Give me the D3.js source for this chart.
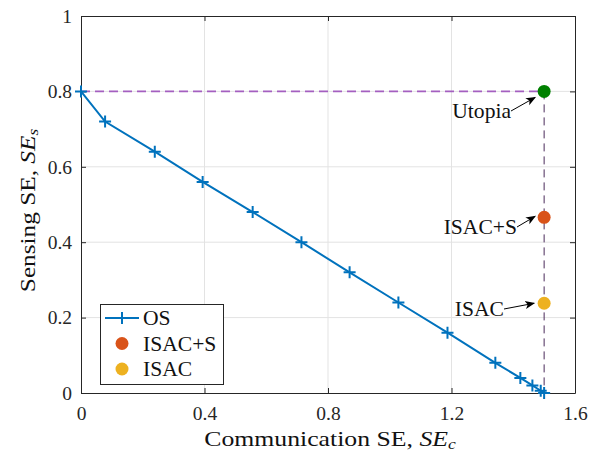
<!DOCTYPE html>
<html>
<head>
<meta charset="utf-8">
<script src="https://cdn.jsdelivr.net/npm/d3@7"></script>
<style>
  body { margin: 0; background: #fff; }
</style>
</head>
<body>
<svg id="chart" width="600" height="454"></svg>
<script>
const FONT = "'Liberation Serif', 'Times New Roman', serif";

// Pareto boundary of the operating strategy (OS)
const osComm  = [0, 0.078, 0.239, 0.394, 0.556, 0.714, 0.870, 1.028, 1.187, 1.342, 1.423, 1.462, 1.489, 1.5];
const osSense = [0.8, 0.72, 0.64, 0.56, 0.48, 0.40, 0.32, 0.24, 0.16, 0.08, 0.04, 0.02, 0.006, 0];

// Single operating points
const pointNames = ["Utopia", "ISAC+S", "ISAC"];
const pointComm  = [1.5, 1.5, 1.5];
const pointSense = [0.8, 0.466, 0.238];
const pointColors = ["#008000", "#D95319", "#EDB120"];

const xTicks = [0, 0.4, 0.8, 1.2, 1.6];
const yTicks = [0, 0.2, 0.4, 0.6, 0.8, 1];

const svg = d3.select("#chart");
const m = { left: 81, right: 25, top: 16, bottom: 61 };
const W = 600, H = 454;
const x = d3.scaleLinear().domain([0, 1.6]).range([m.left, W - m.right]);
const y = d3.scaleLinear().domain([0, 1]).range([H - m.bottom, m.top]);

// grid
const g = svg.append("g");
g.selectAll(".gx").data(xTicks.slice(1, -1)).join("line")
  .attr("x1", d => x(d)).attr("x2", d => x(d))
  .attr("y1", y(0)).attr("y2", y(1))
  .attr("stroke", "#e3e3e3").attr("stroke-width", 1);
g.selectAll(".gy").data(yTicks.slice(1, -1)).join("line")
  .attr("y1", d => y(d)).attr("y2", d => y(d))
  .attr("x1", x(0)).attr("x2", x(1.6))
  .attr("stroke", "#e3e3e3").attr("stroke-width", 1);

// axes (ticks pointing inward, mirrored on top and right)
const tl = 5;
const axisColor = "#262626";
const axB = svg.append("g").attr("transform", `translate(0,${y(0)})`)
  .call(d3.axisBottom(x).tickValues(xTicks).tickSizeInner(-tl).tickSizeOuter(0).tickPadding(13)
    .tickFormat(d => d === 0 ? "0" : d3.format(".1f")(d)));
const axT = svg.append("g").attr("transform", `translate(0,${y(1)})`)
  .call(d3.axisTop(x).tickValues(xTicks).tickSizeInner(-tl).tickSizeOuter(0).tickFormat(""));
const axL = svg.append("g").attr("transform", `translate(${x(0)},0)`)
  .call(d3.axisLeft(y).tickValues(yTicks).tickSizeInner(-tl).tickSizeOuter(0).tickPadding(9)
    .tickFormat(d => (d === 0 || d === 1) ? String(d) : d3.format(".1f")(d)));
const axR = svg.append("g").attr("transform", `translate(${x(1.6)},0)`)
  .call(d3.axisRight(y).tickValues(yTicks).tickSizeInner(-tl).tickSizeOuter(0).tickFormat(""));
[axB, axT, axL, axR].forEach(a => {
  a.select(".domain").attr("stroke", axisColor).attr("stroke-width", 1);
  a.selectAll(".tick line").attr("stroke", axisColor);
  a.selectAll("text").style("font-family", FONT).style("font-size", "19.5px").attr("fill", axisColor);
});

// reference lines to utopia point
svg.append("line")
  .attr("x1", x(0)).attr("x2", x(pointComm[0]))
  .attr("y1", y(pointSense[0])).attr("y2", y(pointSense[0]))
  .attr("stroke", "#a45fc0").attr("stroke-width", 1.6).attr("stroke-dasharray", "9,5");
svg.append("line")
  .attr("x1", x(pointComm[0])).attr("x2", x(pointComm[0]))
  .attr("y1", y(pointSense[0])).attr("y2", y(0))
  .attr("stroke", "#4a2a5a").attr("stroke-width", 1).attr("stroke-dasharray", "8,5");

// OS curve
const osData = osComm.map((c, i) => [c, osSense[i]]);
svg.append("path").datum(osData)
  .attr("d", d3.line().x(d => x(d[0])).y(d => y(d[1])))
  .attr("fill", "none").attr("stroke", "#0072BD").attr("stroke-width", 2);
const plusPath = s => `M${-s},0H${s}M0,${-s}V${s}`;
svg.selectAll(".os").data(osData).join("path")
  .attr("transform", d => `translate(${x(d[0])},${y(d[1])})`)
  .attr("d", plusPath(6)).attr("stroke", "#0072BD").attr("stroke-width", 2).attr("fill", "none");

// points
svg.selectAll(".pt").data(pointNames).join("circle")
  .attr("cx", (d, i) => x(pointComm[i])).attr("cy", (d, i) => y(pointSense[i]))
  .attr("r", 6.5).attr("fill", (d, i) => pointColors[i]);

// serif text helper; glyphs are widened slightly toward Computer Modern proportions
function label(parent, tx, ty, anchor, size, sx, txt) {
  return parent.append("text")
    .attr("transform", `translate(${tx},${ty}) scale(${sx},1)`)
    .attr("text-anchor", anchor)
    .style("font-family", FONT).style("font-size", size + "px").style("fill", "#111")
    .text(txt);
}

// annotations with arrows
const defs = svg.append("defs");
defs.append("marker").attr("id", "arr").attr("viewBox", "0 0 10 10")
  .attr("refX", 9).attr("refY", 5).attr("markerWidth", 10).attr("markerHeight", 10)
  .attr("markerUnits", "userSpaceOnUse").attr("orient", "auto")
  .append("path").attr("d", "M0,1 L10,5 L0,9 L2.5,5 Z").attr("fill", "#000");

const notes = [
  { text: pointNames[0], tx: 511, ty: 111, ex: x(pointComm[0]) - 9, ey: y(pointSense[0]) + 6 },
  { text: pointNames[1], tx: 517, ty: 227, ex: x(pointComm[1]) - 9, ey: y(pointSense[1]) - 1 },
  { text: pointNames[2], tx: 504, ty: 309, ex: x(pointComm[2]) - 10, ey: y(pointSense[2]) },
];
notes.forEach(n => {
  svg.append("line").attr("x1", n.tx).attr("y1", n.ty).attr("x2", n.ex).attr("y2", n.ey)
    .attr("stroke", "#000").attr("stroke-width", 1).attr("marker-end", "url(#arr)");
  label(svg, n.tx, n.ty + 6.5, "end", 20, 1.08, n.text);
});

// legend
const lg = svg.append("g");
lg.append("rect").attr("x", 100.5).attr("y", 304.5).attr("width", 123).attr("height", 80)
  .attr("fill", "#fff").attr("stroke", axisColor).attr("stroke-width", 1);
const legY = [318, 343.5, 369];
const legNames = ["OS", pointNames[1], pointNames[2]];
lg.append("line").attr("x1", 105).attr("x2", 139).attr("y1", legY[0]).attr("y2", legY[0])
  .attr("stroke", "#0072BD").attr("stroke-width", 2);
lg.append("path").attr("transform", `translate(122,${legY[0]})`).attr("d", plusPath(6))
  .attr("stroke", "#0072BD").attr("stroke-width", 2);
lg.append("circle").attr("cx", 122).attr("cy", legY[1]).attr("r", 6.5).attr("fill", pointColors[1]);
lg.append("circle").attr("cx", 122).attr("cy", legY[2]).attr("r", 6.5).attr("fill", pointColors[2]);
legNames.forEach((t, i) => label(lg, 143, legY[i] + 7, "start", 20, 1.08, t));

// axis titles
const xl = label(svg, (x(0) + x(1.6)) / 2 + 2, 446, "middle", 22, 1.17, null);
xl.append("tspan").text("Communication SE, ");
xl.append("tspan").attr("font-style", "italic").text("SE");
xl.append("tspan").attr("font-style", "italic").style("font-size", "15px").attr("dy", 3).text("c");

const yl = svg.append("text").attr("transform", `translate(35,${y(0.5) + 6}) rotate(-90) scale(1.15,1)`)
  .attr("text-anchor", "middle").style("font-family", FONT).style("font-size", "22px").style("fill", "#111");
yl.append("tspan").text("Sensing SE, ");
yl.append("tspan").attr("font-style", "italic").text("SE");
yl.append("tspan").attr("font-style", "italic").style("font-size", "15px").attr("dy", 3).text("s");
</script>
</body>
</html>
